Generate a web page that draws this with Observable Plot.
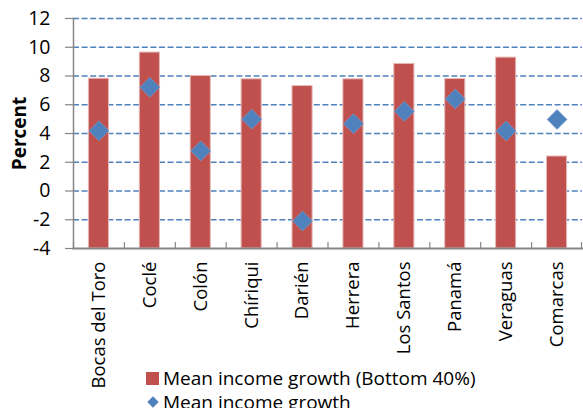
<!DOCTYPE html>
<html><head><meta charset="utf-8">
<script src="https://cdn.jsdelivr.net/npm/d3@7"></script>
<script src="https://cdn.jsdelivr.net/npm/@observablehq/plot@0.6"></script>
<style>
body{margin:0;background:#fff;}
#wrap{position:relative;width:583px;height:408px;overflow:hidden;font-family:"Open Sans",sans-serif;}
.legend{position:absolute;left:146px;top:366px;font-size:19px;color:#000;line-height:24px;}
.row{display:flex;align-items:center;white-space:nowrap;}
.sw{display:inline-block;margin-right:4px;}
.sq{width:13px;height:13px;background:#c0504d;}
.dm{width:13px;height:13px;display:flex;align-items:center;justify-content:center;}
.dm span{display:block;width:8px;height:8px;background:#4f81bd;transform:rotate(45deg);}
</style></head><body><div id="wrap"></div>
<script>
const regions = ["Bocas del Toro","Coclé","Colón","Chíriqui","Darién","Herrera","Los Santos","Panamá","Veraguas","Comarcas"];
const bottom40 = [7.81, 9.63, 8.0, 7.77, 7.3, 7.77, 8.84, 7.79, 9.28, 2.4];
const meanGrowth = [4.19, 7.21, 2.79, 5.0, -2.09, 4.68, 5.54, 6.4, 4.17, 4.98];
const yTicks = [-4, -2, 0, 2, 4, 6, 8, 10, 12];
const seriesLabels = ["Mean income growth (Bottom 40%)", "Mean income growth"];
const yLabel = "Percent";

const yMin = yTicks[0], yMax = yTicks[yTicks.length - 1];
const data = regions.map((r, i) => ({region: r, b40: bottom40[i], mean: meanGrowth[i]}));

const W = 583, H = 408, mL = 73, mR = 1, mT = 18, mB = 160;
const bw = (W - mL - mR) / regions.length;
const plotH = H - mT - mB;
const axisGray = "#868686";

const chart = Plot.plot({
  width: W, height: H,
  marginLeft: mL, marginRight: mR, marginTop: mT, marginBottom: mB,
  style: {fontFamily: "Open Sans, sans-serif", fontSize: "18px", color: "#000", background: "#fff"},
  x: {domain: regions, padding: 0, round: false, axis: null},
  y: {domain: [yMin, yMax], axis: null},
  marks: [
    Plot.ruleY(yTicks.filter(t => t > yMin), {stroke: "#4f81bd", strokeWidth: 1.4, strokeDasharray: "6,2.6"}),
    Plot.barY(data, {x: "region", y1: yMin, y2: "b40", fill: "#c0504d", stroke: "#e6b9b8", strokeWidth: 1, insetLeft: 15.4, insetRight: 15.4}),
    Plot.dot(data, {x: "region", y: "mean", symbol: "diamond2", r: 9, fill: "#4f81bd", stroke: "#7fa3d1", strokeWidth: 0.6}),
    Plot.frame({anchor: "left", stroke: axisGray, strokeWidth: 1.5}),
    Plot.frame({anchor: "bottom", stroke: axisGray, strokeWidth: 2}),
    Plot.ruleX(regions, {x: d => d, dx: -bw / 2, insetTop: plotH - 6, stroke: axisGray, strokeWidth: 1.2}),
    Plot.ruleX(regions.slice(-1), {x: d => d, dx: bw / 2 - 1, insetTop: plotH - 6, stroke: axisGray, strokeWidth: 1.2}),
    Plot.axisY({ticks: yTicks, tickSize: 8, text: null, color: axisGray, strokeWidth: 1.2}),
    Plot.axisY({ticks: yTicks, tickSize: 0, tickPadding: 23, fontSize: 19.5, color: "#000", tickFormat: d => d < 0 ? "-" + Math.abs(d) : String(d), label: null}),
    Plot.axisX({tickSize: 0, tickPadding: 13, tickRotate: -90, fontSize: 18.5, color: "#000", label: null}),
    Plot.text([yLabel], {frameAnchor: "left", textAnchor: "middle", rotate: -90, dx: -54, fontSize: 19, fontWeight: "bold", fill: "#000"})
  ]
});
const wrap = document.getElementById("wrap");
wrap.appendChild(chart);
const lg = document.createElement("div");
lg.className = "legend";
lg.innerHTML =
  `<div class="row"><span class="sw sq"></span>${seriesLabels[0]}</div>` +
  `<div class="row"><span class="sw dm"><span></span></span>${seriesLabels[1]}</div>`;
wrap.appendChild(lg);
</script>
</body></html>
